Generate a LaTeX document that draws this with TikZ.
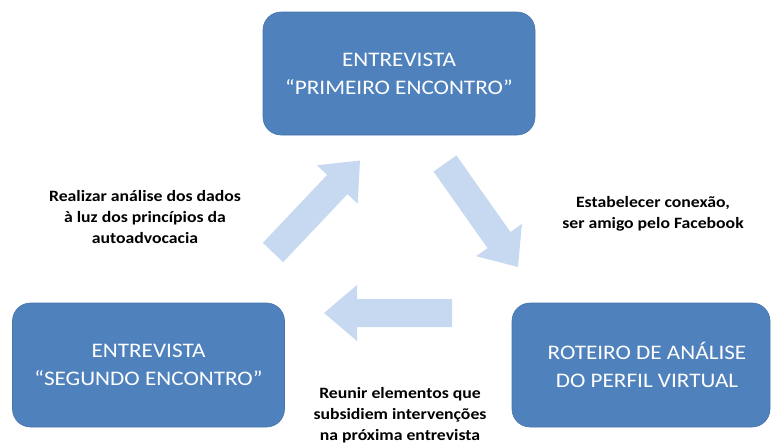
\documentclass[tikz,border=0pt]{standalone}
\usepackage{fontspec}
\setmainfont{Carlito}[FakeStretch=1.12]
\usetikzlibrary{calc}
\definecolor{boxblue}{HTML}{4F81BD}
\definecolor{arrowblue}{HTML}{C6D9F1}
\newcommand{\blockarrow}[3]{%
  \fill[arrowfill, shift={(#1)}, rotate=#2]
    (0,14) -- ({#3-33},14) -- ({#3-33},28) -- (#3,0) --
    ({#3-33},-28) -- ({#3-33},-14) -- (0,-14) -- cycle;}
\tikzset{
  stagebox/.style={fill=boxblue, draw=boxblue!90!black, line width=0.6pt,
    rounded corners=18pt, text=white, align=center,
    font=\fontsize{20.7}{28}\selectfont, inner sep=0pt},
  steplabel/.style={align=center, text=black,
    font=\fontsize{15.8}{21}\selectfont\bfseries, inner sep=0pt},
  arrowfill/.style={fill=arrowblue}
}
\begin{document}
\begin{tikzpicture}[x=1pt,y=-1pt]
\useasboundingbox (0,0) rectangle (771,445);
% boxes
\node[stagebox, minimum width=272pt, minimum height=123pt] (top) at (399,73.5)
  {ENTREVISTA\\``PRIMEIRO ENCONTRO''};
\node[stagebox, minimum width=272pt, minimum height=124pt] (bl) at (148.5,365)
  {ENTREVISTA\\``SEGUNDO ENCONTRO''};
\node[stagebox, minimum width=258pt, minimum height=124pt] (br) at (641,365)
  {\hspace*{12pt}ROTEIRO DE ANÁLISE\\\hspace*{12pt}DO PERFIL VIRTUAL};
% arrows (tail coordinates)
\coordinate (a1) at (273,252.5);
\coordinate (a2) at (445,163.5);
\coordinate (a3) at (452,313);
\blockarrow{a1}{46.6}{126.6}
\blockarrow{a2}{-54.8}{126.7}
\blockarrow{a3}{180}{128}
% labels
\node[steplabel] (l1) at (145,217.5)
  {Realizar análise dos dados\\à luz dos princípios da\\autoadvocacia};
\node[steplabel] (l2) at (653,213.5)
  {Estabelecer conexão,\\ser amigo pelo Facebook};
\node[steplabel] (l3) at (400,415.5)
  {Reunir elementos que\\subsidiem intervenções\\na próxima entrevista};
\end{tikzpicture}
\end{document}
